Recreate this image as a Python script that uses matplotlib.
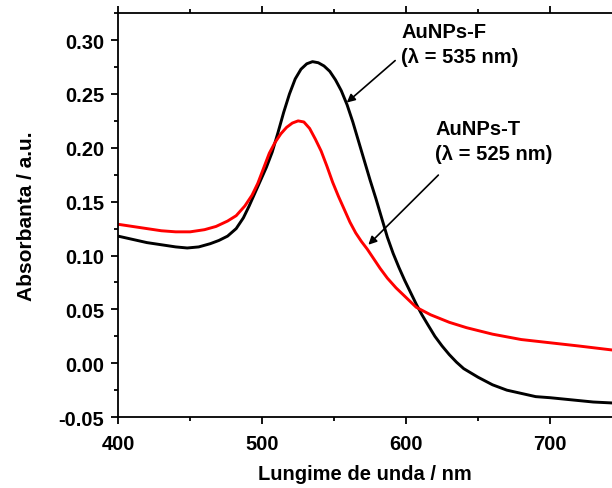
import matplotlib
matplotlib.use("Agg")
import matplotlib.pyplot as plt
from matplotlib.ticker import MultipleLocator

plt.rcParams["font.family"] = ["Liberation Sans", "DejaVu Sans"]
plt.rcParams["font.weight"] = "bold"

# AuNPs-F (black)
wl_f = [400, 410, 420, 430, 440, 448, 456, 464, 470, 476, 482, 487, 491, 495,
        499, 503, 507, 511, 515, 519, 523, 527, 531, 535, 539, 543, 547, 551,
        555, 559, 563, 567, 571, 575, 579, 583, 587, 591, 595, 599, 603, 607,
        611, 615, 620, 625, 630, 635, 640, 650, 660, 670, 680, 690, 700, 715,
        730, 745]
abs_f = [0.118, 0.115, 0.112, 0.110, 0.108, 0.107, 0.108, 0.111, 0.114, 0.118,
         0.125, 0.135, 0.146, 0.158, 0.170, 0.182, 0.196, 0.214, 0.233, 0.250,
         0.264, 0.273, 0.278, 0.280, 0.279, 0.276, 0.271, 0.263, 0.253, 0.240,
         0.224, 0.206, 0.188, 0.170, 0.153, 0.135, 0.117, 0.102, 0.089, 0.077,
         0.066, 0.055, 0.045, 0.036, 0.025, 0.016, 0.008, 0.001, -0.005,
         -0.013, -0.020, -0.025, -0.028, -0.031, -0.032, -0.034, -0.036, -0.037]

# AuNPs-T (red)
wl_t = [400, 410, 420, 430, 440, 450, 460, 468, 476, 482, 488, 493, 497, 501,
        505, 509, 513, 517, 521, 525, 529, 533, 537, 541, 545, 549, 553, 557,
        561, 565, 569, 573, 577, 582, 587, 593, 600, 607, 617, 630, 642, 660,
        680, 700, 720, 745]
abs_t = [0.129, 0.127, 0.125, 0.123, 0.122, 0.122, 0.124, 0.127, 0.132, 0.137,
         0.146, 0.156, 0.167, 0.181, 0.195, 0.205, 0.213, 0.219, 0.223, 0.225,
         0.224, 0.218, 0.208, 0.197, 0.183, 0.168, 0.155, 0.143, 0.131, 0.121,
         0.113, 0.106, 0.098, 0.088, 0.079, 0.070, 0.061, 0.052, 0.045, 0.038,
         0.033, 0.027, 0.022, 0.019, 0.016, 0.012]

fig = plt.figure(figsize=(6.12, 4.89), dpi=100)
ax = fig.add_axes([0.193, 0.145, 0.807, 0.826])

ax.plot(wl_f, abs_f, color="black", lw=2.1)
ax.plot(wl_t, abs_t, color="#ff0000", lw=2.1)

ax.set_xlim(400, 743)
ax.set_ylim(-0.05, 0.325)
ax.xaxis.set_major_locator(MultipleLocator(100))
ax.xaxis.set_minor_locator(MultipleLocator(50))
ax.yaxis.set_major_locator(MultipleLocator(0.05))
ax.yaxis.set_minor_locator(MultipleLocator(0.025))
ax.yaxis.set_major_formatter(plt.FormatStrFormatter("%.2f"))

ax.spines["right"].set_visible(False)
for s in ["left", "bottom", "top"]:
    ax.spines[s].set_linewidth(1.3)
ax.tick_params(which="both", direction="out", width=1.3, labelsize=14.5)
ax.tick_params(which="major", length=5)
ax.tick_params(which="minor", length=3)
ax.tick_params(axis="x", which="major", pad=7)
ax.tick_params(axis="y", which="major", pad=5)
ax.tick_params(axis="x", which="both", top=True)

ax.set_xlabel("Lungime de unda / nm", fontsize=14.5, fontweight="bold", labelpad=8)
ax.set_ylabel("Absorbanta / a.u.", fontsize=15, fontweight="bold", labelpad=16)

ax.text(596.5, 0.317, "AuNPs-F\n(λ = 535 nm)", fontsize=14.5, fontweight="bold",
        va="top", ha="left", linespacing=1.4)
ax.annotate("", xy=(558.8, 0.242), xytext=(592.4, 0.281),
            arrowprops=dict(arrowstyle="-|>", color="black", lw=1.2,
                            mutation_scale=12, shrinkA=0, shrinkB=0))
ax.text(620.1, 0.227, "AuNPs-T\n(λ = 525 nm)", fontsize=14.5, fontweight="bold",
        va="top", ha="left", linespacing=1.4)
ax.annotate("", xy=(573.8, 0.110), xytext=(622.4, 0.1747),
            arrowprops=dict(arrowstyle="-|>", color="black", lw=1.2,
                            mutation_scale=12, shrinkA=0, shrinkB=0))

fig.savefig("out.png", dpi=100)
